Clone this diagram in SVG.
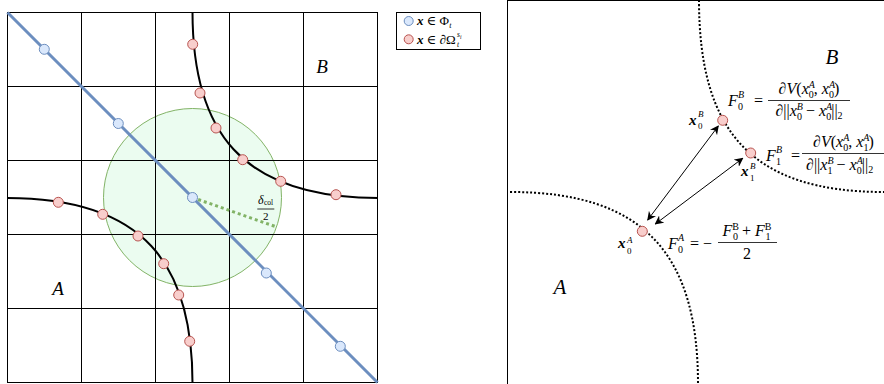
<svg xmlns="http://www.w3.org/2000/svg" width="884" height="384" viewBox="0 0 884 384">
<defs>
<style>
.grid{stroke:#000;stroke-width:1;fill:none}
.red{fill:#f8cecc;stroke:#b85450;stroke-width:1}
.blue{fill:#dae8fc;stroke:#6c8ebf;stroke-width:1}
.curve{fill:none;stroke:#000;stroke-width:2}
.dot{fill:none;stroke:#000;stroke-width:2;stroke-dasharray:2 2}
.m{font-family:"Liberation Serif","DejaVu Serif",serif;font-style:italic;fill:#000}
.r{font-family:"Liberation Serif","DejaVu Serif",serif;font-style:normal;fill:#000}
.b{font-weight:bold;font-style:italic}
.s{font-size:10px}
.up{font-style:normal}
.bar{stroke:#000;stroke-width:0.8}
.arrow{stroke:#000;stroke-width:1;fill:none;marker-start:url(#ah);marker-end:url(#ah)}
</style>
<marker id="ah" viewBox="0 0 10 10" refX="9" refY="5" markerWidth="9" markerHeight="9" orient="auto-start-reverse" markerUnits="userSpaceOnUse">
<path d="M0,0 L10,5 L0,10 L3,5 Z" fill="#000"/>
</marker>
</defs>
<rect width="884" height="384" fill="#fff"/>

<!-- Left panel -->
<g id="left-panel">
<g id="collision-circle">
<circle cx="192.5" cy="197.5" r="89" fill="#ebfcf0" stroke="#82b366" stroke-width="1"/>
</g>
<g id="grid">
<rect class="grid" x="7.5" y="12.5" width="370" height="370"/>
<path class="grid" d="M81.5,12.5V382.5M155.5,12.5V382.5M229.5,12.5V382.5M303.5,12.5V382.5M7.5,86.5H377.5M7.5,160.5H377.5M7.5,234.5H377.5M7.5,308.5H377.5"/>
</g>
<g id="connectors-left">
<path class="curve" d="M192.5,12 C192.5,130 240,198 378,198"/>
<path class="curve" d="M7,198 C145,198 192.5,265 192.5,383"/>
<line x1="7.5" y1="12.5" x2="377.5" y2="382.5" stroke="#6c8ebf" stroke-width="3"/>
<line x1="192.5" y1="197.5" x2="276.7" y2="227" stroke="#82b366" stroke-width="3" stroke-dasharray="3 3"/>
</g>
<g id="blue-points">
<circle class="blue" cx="44.3" cy="49.3" r="5"/>
<circle class="blue" cx="118.3" cy="123.5" r="5"/>
<circle class="blue" cx="192.5" cy="197.5" r="5"/>
<circle class="blue" cx="266.3" cy="273" r="5"/>
<circle class="blue" cx="340.3" cy="346.3" r="5"/>
</g>
<g id="red-points-B">
<circle class="red" cx="192.7" cy="44.3" r="5"/>
<circle class="red" cx="200" cy="93" r="5"/>
<circle class="red" cx="216" cy="128" r="5"/>
<circle class="red" cx="242.7" cy="159.7" r="5"/>
<circle class="red" cx="280.7" cy="181.3" r="5"/>
<circle class="red" cx="336" cy="194.7" r="5"/>
</g>
<g id="red-points-A">
<circle class="red" cx="58.3" cy="202.3" r="5"/>
<circle class="red" cx="102.7" cy="214.3" r="5"/>
<circle class="red" cx="138" cy="236" r="5"/>
<circle class="red" cx="163.7" cy="263.7" r="5"/>
<circle class="red" cx="178.7" cy="295" r="5"/>
<circle class="red" cx="189.7" cy="341.3" r="5"/>
</g>
<g id="label-delta">
<text class="m" x="258" y="204" font-size="12">δ</text>
<text class="r" x="264" y="205" font-size="7.5">col</text>
<line class="bar" x1="257.3" y1="209" x2="274.3" y2="209"/>
<text class="r" x="265.8" y="220" font-size="11" text-anchor="middle">2</text>
</g>
<text class="m" x="322" y="73" font-size="19" text-anchor="middle">B</text>
<text class="m" x="58" y="295" font-size="19" text-anchor="middle">A</text>
</g>

<!-- Legend -->
<g id="legend">
<rect x="396.5" y="12.5" width="84" height="37" fill="#fff" stroke="#000" stroke-width="1"/>
<circle class="blue" cx="408.7" cy="21" r="4.5"/>
<circle class="red" cx="408.7" cy="39.3" r="4.5"/>
<text class="m" x="417" y="25" font-size="13"><tspan class="b">x</tspan><tspan class="up"> ∈ Φ</tspan><tspan font-size="8" dy="3">t</tspan></text>
<text class="m" x="417" y="43.5" font-size="13"><tspan class="b">x</tspan><tspan class="up"> ∈ ∂Ω</tspan></text>
<text class="m" x="457" y="37" font-size="7.5">s<tspan font-size="5.5" dy="1.5">i</tspan></text>
<text class="m" x="457" y="47" font-size="7.5">t</text>
</g>

<!-- Right panel -->
<g id="right-panel">
<rect x="507.5" y="0.5" width="400" height="400" fill="none" stroke="#000" stroke-width="1"/>
<g id="connectors-right">
<path class="dot" d="M699,0 C699,130 750,192 884,192"/>
<path class="dot" d="M510,192 C644,192 698,254 698,384"/>
<line class="arrow" x1="647.7" y1="220" x2="718.3" y2="126"/>
<line class="arrow" x1="655.3" y1="224" x2="742.7" y2="158.3"/>
</g>
<g id="node-x0B">
<circle class="red" cx="722.7" cy="120.3" r="5"/>
<text class="m" x="689" y="125" font-size="15"><tspan class="b">x</tspan></text>
<text class="m" x="698" y="117" font-size="9">B</text>
<text class="r" x="698" y="129" font-size="9">0</text>
</g>
<g id="node-x1B">
<circle class="red" cx="750.7" cy="153" r="5"/>
<text class="m" x="741" y="176" font-size="15"><tspan class="b">x</tspan></text>
<text class="m" x="750" y="169" font-size="9">B</text>
<text class="r" x="750" y="181" font-size="9">1</text>
</g>
<g id="node-x0A">
<circle class="red" cx="642.3" cy="231.3" r="5"/>
<text class="m" x="618" y="248" font-size="15"><tspan class="b">x</tspan></text>
<text class="m" x="627" y="243" font-size="9">A</text>
<text class="r" x="627" y="254" font-size="9">0</text>
</g>

<g id="formula-F0B">
<text class="m" x="728" y="106" font-size="16">F</text>
<text class="m" x="738" y="98" font-size="10">B</text>
<text class="r" x="738" y="110" font-size="10">0</text>
<text class="r" x="754" y="106" font-size="16">=</text>
<text class="m" x="809" y="94" font-size="16" text-anchor="middle"><tspan class="up">∂</tspan>V<tspan class="up">(</tspan>x<tspan class="s" dy="-6">A</tspan><tspan class="s up" dx="-6" dy="10">0</tspan><tspan class="up" dy="-4">, </tspan>x<tspan class="s" dy="-6">A</tspan><tspan class="s up" dx="-6" dy="10">0</tspan><tspan class="up" dy="-4">)</tspan></text>
<line class="bar" x1="768" y1="100.5" x2="850" y2="100.5"/>
<text class="m" x="809" y="116" font-size="16" text-anchor="middle"><tspan class="up">∂||</tspan>x<tspan class="s" dy="-6">B</tspan><tspan class="s up" dx="-6" dy="10">0</tspan><tspan class="up" dy="-4"> − </tspan>x<tspan class="s" dy="-6">A</tspan><tspan class="s up" dx="-6" dy="10">0</tspan><tspan class="up" dy="-4">||</tspan><tspan class="s up" dy="3">2</tspan></text>
</g>

<g id="formula-F1B">
<text class="m" x="766" y="161" font-size="16">F</text>
<text class="m" x="776" y="153" font-size="10">B</text>
<text class="r" x="776" y="165" font-size="10">1</text>
<text class="r" x="791" y="161" font-size="16">=</text>
<text class="m" x="813" y="147" font-size="16"><tspan class="up">∂</tspan>V<tspan class="up">(</tspan>x<tspan class="s" dy="-6">A</tspan><tspan class="s up" dx="-6" dy="10">0</tspan><tspan class="up" dy="-4">, </tspan>x<tspan class="s" dy="-6">A</tspan><tspan class="s up" dx="-6" dy="10">1</tspan><tspan class="up" dy="-4">)</tspan></text>
<line class="bar" x1="802" y1="153.5" x2="890" y2="153.5"/>
<text class="m" x="806" y="170" font-size="16"><tspan class="up">∂||</tspan>x<tspan class="s" dy="-6">B</tspan><tspan class="s up" dx="-6" dy="10">1</tspan><tspan class="up" dy="-4"> − </tspan>x<tspan class="s" dy="-6">A</tspan><tspan class="s up" dx="-6" dy="10">0</tspan><tspan class="up" dy="-4">||</tspan><tspan class="s up" dy="3">2</tspan></text>
</g>

<g id="formula-F0A">
<text class="m" x="668" y="249" font-size="16">F</text>
<text class="m" x="678" y="241" font-size="10">A</text>
<text class="r" x="678" y="253" font-size="10">0</text>
<text class="r" x="690" y="249" font-size="16">= −</text>
<text class="m" x="747" y="236" font-size="16" text-anchor="middle">F<tspan class="s up" dy="-6">B</tspan><tspan class="s up" dx="-6" dy="10">0</tspan><tspan class="up" dy="-4"> + </tspan>F<tspan class="s up" dy="-6">B</tspan><tspan class="s up" dx="-6" dy="10">1</tspan></text>
<line class="bar" x1="718" y1="242.5" x2="777" y2="242.5"/>
<text class="r" x="747" y="259" font-size="16" text-anchor="middle">2</text>
</g>
<text class="m" x="832" y="64" font-size="21" text-anchor="middle">B</text>
<text class="m" x="560" y="294" font-size="21" text-anchor="middle">A</text>
</g>
</svg>
